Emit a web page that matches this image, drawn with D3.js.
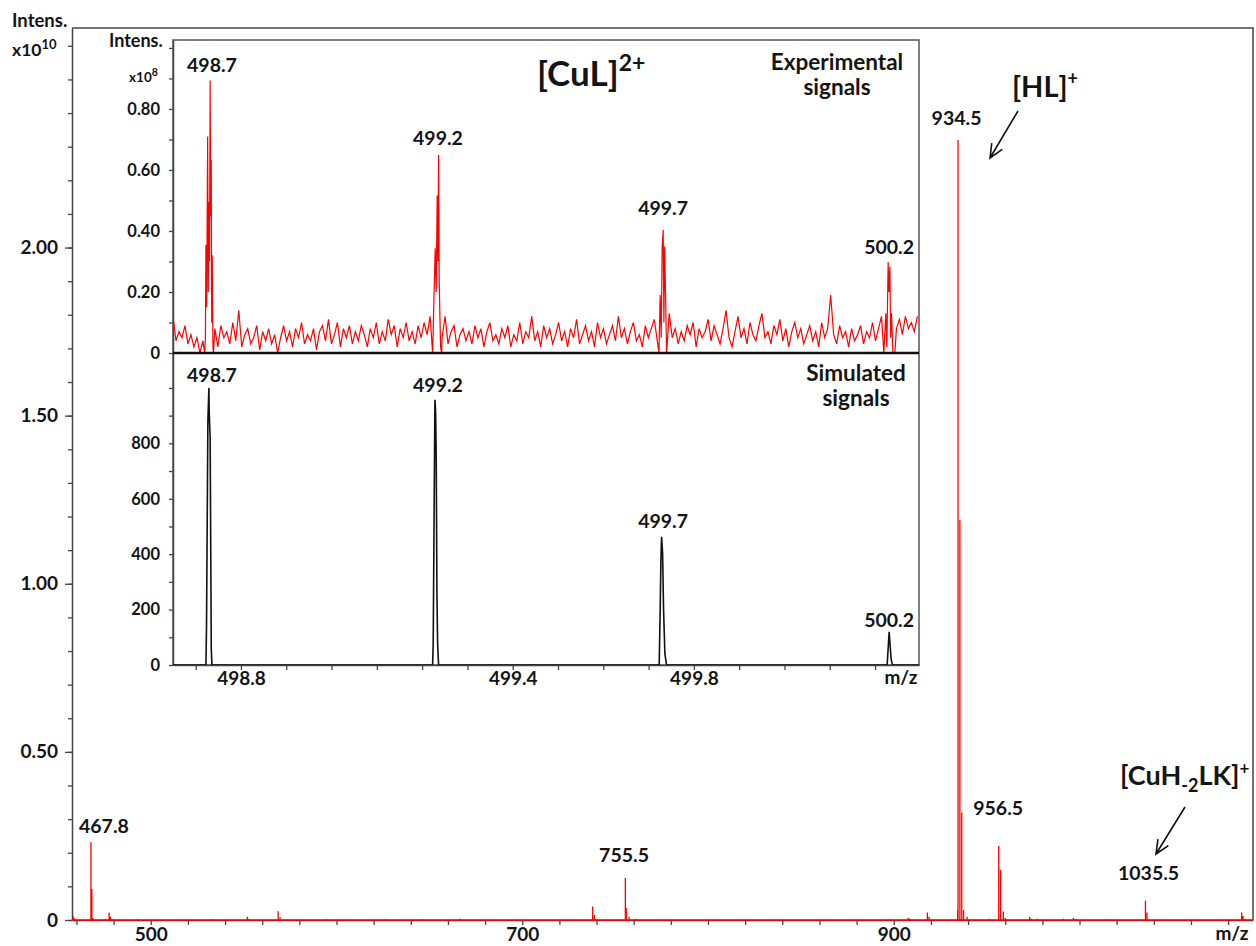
<!DOCTYPE html>
<html>
<head>
<meta charset="utf-8">
<script src="https://cdn.jsdelivr.net/npm/d3@7"></script>
<style>
body { margin: 0; background: #fff; }
text { font-family: Lato, "Open Sans", sans-serif; font-weight: bold; fill: #141414; }
</style>
</head>
<body>
<script>
// ---- main spectrum: m/z and intensity (x10^10) of the sticks ----
var mainMz  = [458.2, 458.8, 467.8, 468.3, 469.0, 475.5, 477.6, 478.3, 479.0, 493.0,
               533.0, 552.0, 552.6, 568.6, 569.6, 594.7, 626.5, 646.0, 666.6,
               737.9, 738.8, 739.5, 755.5, 756.0, 757.5, 761.0,
               897.9, 907.8, 908.6, 918.1, 919.0,
               934.4, 934.6, 935.6, 936.6, 937.6, 939.5, 951.3,
               956.5, 957.5, 959.0, 960.0, 973.2, 974.0, 977.3, 991.3, 996.7, 998.0, 1014.5,
               1035.5, 1036.3, 1087.3, 1088.0, 1089.0];
var mainInt = [0.012, 0.005, 0.231, 0.092, 0.005, 0.004, 0.022, 0.010, 0.004, 0.003,
               0.003, 0.010, 0.004, 0.026, 0.008, 0.003, 0.003, 0.003, 0.004,
               0.040, 0.015, 0.004, 0.125, 0.036, 0.010, 0.004,
               0.003, 0.007, 0.004, 0.022, 0.010,
               0.030, 2.320, 1.190, 0.320, 0.030, 0.010, 0.004,
               0.220, 0.149, 0.025, 0.006, 0.010, 0.004, 0.004, 0.004, 0.006, 0.003, 0.003,
               0.057, 0.022, 0.022, 0.012, 0.004];
var mainLabelText = ["467.8", "755.5", "934.5", "956.5", "1035.5"];
var mainLabelMz   = [474.8, 754.8, 933.8, 956.2, 1037.2];
var mainLabelY    = [0.259, 0.173, 2.365, 0.312, 0.119];
var mainMajorY = [0, 0.5, 1.0, 1.5, 2.0];
var mainXLabels = [500, 700, 900];

// ---- inset, experimental signals (intensity x10^8) ----
var expNoiseStart = 498.65, expNoiseStep = 0.0066;
var expNoise = [
  0.12,0.04,0.07,0.05,0.09,0.03,0.06,0.02,0.05,0.00,
  0.04,0.07,0.03,0.06,0.08,0.02,0.09,0.05,0.07,0.03,
  0.10,0.04,0.14,0.02,0.06,0.08,0.03,0.05,0.09,0.01,
  0.07,0.04,0.08,0.03,0.06,0.00,0.05,0.09,0.04,0.07,
  0.02,0.08,0.05,0.10,0.03,0.06,0.04,0.08,0.01,0.07,
  0.09,0.04,0.11,0.03,0.06,0.10,0.02,0.08,0.05,0.09,
  0.03,0.07,0.04,0.09,0.06,0.02,0.08,0.05,0.10,0.03,
  0.07,0.04,0.11,0.06,0.09,0.02,0.08,0.05,0.10,0.04,
  0.07,0.03,0.09,0.05,0.10,0.06,0.12,0.04,0.08,0.11,
  0.05,0.12,0.03,0.07,0.09,0.02,0.06,0.08,0.04,0.07,
  0.03,0.09,0.05,0.08,0.02,0.07,0.10,0.04,0.06,0.03,
  0.08,0.05,0.09,0.02,0.06,0.04,0.10,0.03,0.07,0.05,
  0.12,0.04,0.07,0.02,0.09,0.05,0.08,0.03,0.06,0.10,
  0.04,0.07,0.02,0.08,0.05,0.11,0.03,0.06,0.09,0.04,
  0.07,0.02,0.10,0.05,0.08,0.03,0.06,0.09,0.04,0.12,
  0.05,0.08,0.03,0.07,0.10,0.04,0.06,0.02,0.09,0.05,
  0.08,0.11,0.04,0.06,0.03,0.09,0.13,0.05,0.08,0.03,
  0.07,0.04,0.09,0.06,0.10,0.02,0.08,0.05,0.07,0.11,
  0.04,0.09,0.06,0.03,0.08,0.14,0.05,0.02,0.07,0.12,
  0.05,0.08,0.03,0.10,0.06,0.04,0.09,0.13,0.05,0.07,
  0.03,0.09,0.06,0.11,0.04,0.08,0.02,0.07,0.10,0.05,
  0.08,0.03,0.06,0.09,0.04,0.07,0.02,0.10,0.05,0.08,
  0.19,0.06,0.03,0.09,0.05,0.07,0.02,0.08,0.04,0.06,
  0.09,0.03,0.07,0.05,0.10,0.04,0.08,0.12,0.06,0.09,
  0.05,0.03,0.08,0.11,0.06,0.12,0.08,0.10,0.07,0.12];
var expPeak1 = [[498.7199,0],[498.7216,0.05],[498.7227,0.354],[498.7243,0.15],[498.7265,0.71],
                [498.7278,0.2],[498.7294,0.496],[498.7307,0.3],[498.7320,0.893],[498.7333,0.45],
                [498.7344,0.633],[498.7355,0.1],[498.7366,0.32],[498.7382,0.02],[498.7393,0]];
var expPeak2 = [[499.2232,0],[499.2260,0.174],[499.2289,0.343],[499.2311,0.2],[499.2333,0.516],
                [499.2349,0.3],[499.2364,0.649],[499.2377,0.239],[499.2393,0.12],[499.2408,0.02],
                [499.2430,0]];
var expPeak3 = [[499.7228,0],[499.7256,0.19],[499.7278,0.05],[499.7300,0.349],[499.7322,0.403],
                [499.7338,0.1],[499.7353,0.349],[499.7375,0.19],[499.7397,0]];
var expPeak4 = [[500.2194,0],[500.2238,0.13],[500.2260,0.02],[500.2289,0.298],[500.2305,0.2],
                [500.2327,0.283],[500.2344,0.05],[500.2364,0.13],[500.2393,0],[500.2437,0]];

// ---- inset, simulated signals ----
var simPeak1 = [[498.7227,0],[498.7240,140],[498.7270,880],[498.7292,1000],[498.7300,910],
                [498.7320,820],[498.7345,60],[498.7360,0]];
var simPeak2 = [[499.2232,0],[499.2245,79],[499.2267,600],[499.2283,957],[499.2298,914],
                [499.2311,758],[499.2327,260],[499.2342,79],[499.2364,0]];
var simPeak3 = [[499.7234,0],[499.7256,198],[499.7272,380],[499.7287,463],[499.7309,404],
                [499.7331,198],[499.7360,40],[499.7397,0]];
var simPeak4 = [[500.2267,0],[500.2289,60],[500.2311,120],[500.2333,70],[500.2355,20],[500.2386,0]];

var insetLabelText = ["498.7", "499.2", "499.7", "500.2"];
var insetLabelMz   = [498.736, 499.235, 499.732, 500.231];
var expLabelY      = [0.921, 0.682, 0.452, 0.325];
var simLabelY      = [1023, 987, 493, 137];
var insetXLabels = [498.8, 499.4, 499.8];

var W = 1256, H = 946;
var axisColor = "#454545";

function styleAxis(g, size) {
  g.select(".domain").attr("stroke", axisColor).attr("stroke-width", 1.5);
  g.selectAll(".tick line").attr("stroke", axisColor).attr("stroke-width", 1.3);
  g.selectAll(".tick text").attr("font-size", size).attr("fill", "#141414")
    .attr("font-family", "Lato, 'Open Sans', sans-serif").attr("font-weight", "bold");
}

function drawMain(svg) {
  var x = d3.scaleLinear().domain([457.6, 1093.4]).range([72, 1253]);
  var y = d3.scaleLinear().domain([0, 2.653]).range([920, 28]);

  // frame top and right
  svg.append("path")
    .attr("d", "M" + x.range()[0] + "," + y.range()[1] + "H" + x.range()[1] + "V" + y.range()[0])
    .attr("fill", "none").attr("stroke", axisColor).attr("stroke-width", 1.5);

  var minorY = d3.range(0, 27).map(function(i) { return i / 10; });
  svg.append("g").attr("transform", "translate(72,0)")
    .call(d3.axisLeft(y).tickValues(minorY).tickSize(4).tickSizeOuter(0).tickFormat(""))
    .call(styleAxis, 19);
  svg.append("g").attr("transform", "translate(72,0)")
    .call(d3.axisLeft(y).tickValues(mainMajorY).tickSize(7).tickSizeOuter(0).tickPadding(7)
      .tickFormat(function(d) { return d === 0 ? "0" : d3.format(".2f")(d); }))
    .call(styleAxis, 19)
    .call(function(g) { g.select(".domain").remove(); });

  var xt = d3.range(460, 1093, 20);
  svg.append("g").attr("transform", "translate(0,920)")
    .call(d3.axisBottom(x).tickValues(xt).tickSize(5).tickSizeOuter(0).tickPadding(3)
      .tickFormat(function(d) { return mainXLabels.indexOf(d) >= 0 ? d : ""; }))
    .call(styleAxis, 19);

  // stick spectrum with red baseline
  var pts = [[x.domain()[0], 0]];
  mainMz.forEach(function(m, i) {
    pts.push([m, 0], [m, mainInt[i]], [m, 0]);
  });
  pts.push([x.domain()[1], 0]);
  svg.append("path")
    .attr("d", d3.line().x(function(d) { return x(d[0]); }).y(function(d) { return y(d[1]); })(pts))
    .attr("fill", "none").attr("stroke", "#ff0000").attr("stroke-width", 1.3);

  mainLabelText.forEach(function(t, i) {
    svg.append("text").attr("x", x(mainLabelMz[i])).attr("y", y(mainLabelY[i]))
      .attr("text-anchor", "middle").attr("font-size", 19.5).text(t);
  });

  svg.append("text").attr("x", 1232).attr("y", 940).attr("text-anchor", "middle")
    .attr("font-size", 19).text("m/z");
  svg.append("text").attr("x", 12).attr("y", 27).attr("font-size", 18.5).text("Intens.");
  var e = svg.append("text").attr("x", 12).attr("y", 56).attr("font-size", 17.5);
  e.append("tspan").text("x10");
  e.append("tspan").attr("font-size", 13).attr("dy", -7).text("10");

  // ion labels and arrows
  var hl = svg.append("text").attr("x", 1012).attr("y", 97).attr("font-size", 29);
  hl.append("tspan").text("[HL]");
  hl.append("tspan").attr("font-size", 18).attr("dy", -12).text("+");

  var ck = svg.append("text").attr("x", 1120).attr("y", 785).attr("font-size", 27);
  ck.append("tspan").text("[CuH");
  ck.append("tspan").attr("font-size", 18).attr("dy", 7).text("-2");
  ck.append("tspan").attr("dy", -7).text("LK]");
  ck.append("tspan").attr("font-size", 17).attr("dy", -11).text("+");

  drawArrow(svg, 1018, 111, 990, 158);
  drawArrow(svg, 1185, 807, 1156, 854);
}

function drawArrow(svg, x1, y1, x2, y2) {
  var a = Math.atan2(y2 - y1, x2 - x1), L = 15, s = 0.42;
  svg.append("path")
    .attr("d", "M" + x1 + "," + y1 + "L" + x2 + "," + y2 +
      "M" + (x2 - L * Math.cos(a - s)) + "," + (y2 - L * Math.sin(a - s)) +
      "L" + x2 + "," + y2 +
      "L" + (x2 - L * Math.cos(a + s)) + "," + (y2 - L * Math.sin(a + s)))
    .attr("fill", "none").attr("stroke", "#111").attr("stroke-width", 1.6);
}

function buildTrace(noise, start, step, peaks) {
  var pts = [];
  noise.forEach(function(v, i) {
    var m = start + i * step;
    var inside = peaks.some(function(p) { return m >= p[0][0] && m <= p[p.length - 1][0]; });
    if (!inside) pts.push([m, v]);
  });
  peaks.forEach(function(p) { pts = pts.concat(p); });
  pts.sort(function(a, b) { return a[0] - b[0]; });
  return pts;
}

function drawInset(svg) {
  var L = 173, R = 919, T = 40, M = 353, B = 665;
  var x = d3.scaleLinear().domain([498.65, 500.297]).range([L, R]);
  var yu = d3.scaleLinear().domain([0, 1.026]).range([M, T]);
  var yl = d3.scaleLinear().domain([0, 1126]).range([B, M]);

  svg.append("rect").attr("x", L).attr("y", T).attr("width", R - L).attr("height", B - T)
    .attr("fill", "#fff").attr("stroke", "#555").attr("stroke-width", 1.5);

  svg.append("clipPath").attr("id", "ic").append("rect")
    .attr("x", L).attr("y", T).attr("width", R - L).attr("height", B - T);

  // upper y axis
  svg.append("g").attr("transform", "translate(" + L + ",0)")
    .call(d3.axisLeft(yu).tickValues(d3.range(0, 11).map(function(i) { return i / 10; }))
      .tickSize(4).tickSizeOuter(0).tickPadding(9)
      .tickFormat(function(d) {
        var k = Math.round(d * 10);
        if (k === 0) return "0";
        return (k % 2 === 0 && k <= 8) ? d3.format(".2f")(d) : "";
      }))
    .call(styleAxis, 16.5);
  // lower y axis
  svg.append("g").attr("transform", "translate(" + L + ",0)")
    .call(d3.axisLeft(yl).tickValues(d3.range(0, 11).map(function(i) { return i * 100; }))
      .tickSize(4).tickSizeOuter(0).tickPadding(9)
      .tickFormat(function(d) { return (d % 200 === 0 && d <= 800) ? d : ""; }))
    .call(styleAxis, 16.5);
  // x axis
  svg.append("g").attr("transform", "translate(0," + B + ")")
    .call(d3.axisBottom(x).tickValues(d3.range(0, 16).map(function(i) { return 498.7 + i / 10; }))
      .tickSize(5).tickSizeOuter(0).tickPadding(2)
      .tickFormat(function(d) {
        var hit = insetXLabels.filter(function(v) { return Math.abs(v - d) < 1e-6; });
        return hit.length ? d3.format(".1f")(d) : "";
      }))
    .call(styleAxis, 19);

  var exp = buildTrace(expNoise, expNoiseStart, expNoiseStep, [expPeak1, expPeak2, expPeak3, expPeak4]);
  svg.append("path").attr("clip-path", "url(#ic)")
    .attr("d", d3.line().x(function(d) { return x(d[0]); }).y(function(d) { return yu(d[1]); })(exp))
    .attr("fill", "none").attr("stroke", "#ff0000").attr("stroke-width", 1.2);

  var sim = [[x.domain()[0], 0]].concat(simPeak1, simPeak2, simPeak3, simPeak4, [[x.domain()[1], 0]]);
  svg.append("path").attr("clip-path", "url(#ic)")
    .attr("d", d3.line().x(function(d) { return x(d[0]); }).y(function(d) { return yl(d[1]); })(sim))
    .attr("fill", "none").attr("stroke", "#111").attr("stroke-width", 1.6);

  // divider between the two panels
  svg.append("line").attr("x1", L).attr("x2", R).attr("y1", M).attr("y2", M)
    .attr("stroke", "#111").attr("stroke-width", 2.6);

  insetLabelText.forEach(function(t, i) {
    svg.append("text").attr("x", x(insetLabelMz[i])).attr("y", yu(expLabelY[i]))
      .attr("text-anchor", "middle").attr("font-size", 19.5).text(t);
    svg.append("text").attr("x", x(insetLabelMz[i])).attr("y", yl(simLabelY[i]))
      .attr("text-anchor", "middle").attr("font-size", 19.5).text(t);
  });

  svg.append("text").attr("x", 901).attr("y", 684).attr("text-anchor", "middle")
    .attr("font-size", 19).text("m/z");
  svg.append("text").attr("x", 109).attr("y", 47).attr("font-size", 18).text("Intens.");
  var e = svg.append("text").attr("x", 129).attr("y", 82).attr("font-size", 13.5);
  e.append("tspan").text("x10");
  e.append("tspan").attr("font-size", 10.5).attr("dy", -6).text("8");

  var cu = svg.append("text").attr("x", 537).attr("y", 86).attr("font-size", 35);
  cu.append("tspan").text("[CuL]");
  cu.append("tspan").attr("font-size", 23).attr("dy", -15).text("2+");

  svg.append("text").attr("x", 837).attr("y", 70).attr("text-anchor", "middle")
    .attr("font-size", 22.5).text("Experimental");
  svg.append("text").attr("x", 837).attr("y", 95).attr("text-anchor", "middle")
    .attr("font-size", 22.5).text("signals");
  svg.append("text").attr("x", 856).attr("y", 381).attr("text-anchor", "middle")
    .attr("font-size", 22.5).text("Simulated");
  svg.append("text").attr("x", 856).attr("y", 406).attr("text-anchor", "middle")
    .attr("font-size", 22.5).text("signals");
}

document.addEventListener("DOMContentLoaded", function(event) {
  var svg = d3.select("body").append("svg").attr("width", W).attr("height", H);
  drawMain(svg);
  drawInset(svg);
});
</script>
</body>
</html>
